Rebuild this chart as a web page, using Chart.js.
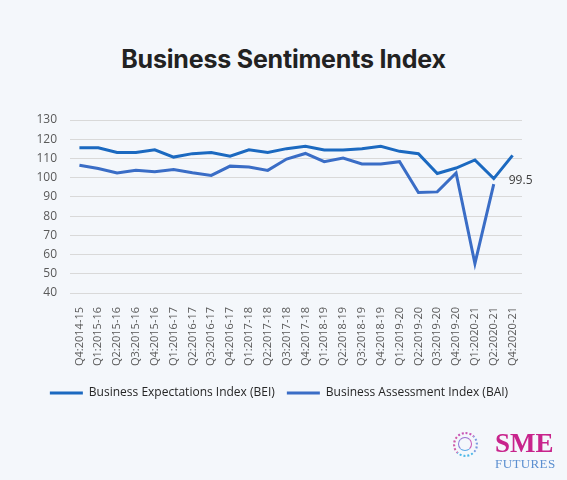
<!DOCTYPE html>
<html>
<head>
<meta charset="utf-8">
<script src="https://cdn.jsdelivr.net/npm/chart.js@4/dist/chart.umd.min.js"></script>
<style>
  html, body { margin: 0; padding: 0; background: #f4f7fb; }
  #wrap { position: relative; width: 567px; height: 480px; overflow: hidden; }
  #title { position: absolute; top: 44px; left: 0; width: 567px; text-align: center;
    font: 700 25px Inter, "Open Sans", sans-serif; color: #222; letter-spacing: -0.2px; }
  #chart { position: absolute; left: 0; top: 0; }
  .logo { position: absolute; left: 452px; top: 430px; width: 110px; height: 45px; }
  .ring { position: absolute; border-radius: 50%; border: 2px dotted #c94fb8; }
  .sme { position: absolute; left: 43px; top: 0; font: 700 27px/1 "Liberation Serif", serif; color: #c8248c; }
  .fut { position: absolute; left: 43px; top: 27px; font: 13px/1 "Liberation Serif", serif; color: #5b8fd0; letter-spacing: 0.4px; }
</style>
</head>
<body>
<div id="wrap">
  <div id="title">Business Sentiments Index</div>
  <canvas id="chart" width="567" height="480"></canvas>
  <div class="logo">
    <div class="ring" style="left:1px;top:2px;width:21px;height:21px;border-color:#c955b5 #7a9be0 #4bb8e8 #d05aa8;"></div>
    <div class="ring" style="left:6px;top:7px;width:12px;height:12px;border-style:solid;border-width:1.5px;border-color:#9a6fd0 #c955b5 #5aa8e6 #8a7ad8;"></div>
    <div class="sme">SME</div>
    <div class="fut">FUTURES</div>
  </div>
</div>
<script>
const quarters = ["Q4:2014-15", "Q1:2015-16", "Q2:2015-16", "Q3:2015-16", "Q4:2015-16",
  "Q1:2016-17", "Q2:2016-17", "Q3:2016-17", "Q4:2016-17", "Q1:2017-18", "Q2:2017-18",
  "Q3:2017-18", "Q4:2017-18", "Q1:2018-19", "Q2:2018-19", "Q3:2018-19", "Q4:2018-19",
  "Q1:2019-20", "Q2:2019-20", "Q3:2019-20", "Q4:2019-20", "Q1:2020-21", "Q2:2020-21",
  "Q4:2020-21"];
const bei = [115.6, 115.6, 113.1, 113.1, 114.5, 110.7, 112.5, 113.1, 111.2, 114.5, 113.1,
  115.1, 116.3, 114.4, 114.4, 115.1, 116.3, 113.7, 112.5, 102.2, 105.0, 109.2, 99.5, 111.6];
const bai = [106.5, 104.8, 102.4, 103.8, 103.1, 104.3, 102.6, 101.2, 106.0, 105.5, 103.8,
  109.7, 112.6, 108.3, 110.2, 107.1, 107.1, 108.3, 92.3, 92.6, 102.4, 55.3, 96.6, null];
const yTicks = [40, 50, 60, 70, 80, 90, 100, 110, 120, 130];
const labelIndex = 22; // the 99.5 callout on BEI

// draws the single value label next to the BEI dip
const valueLabel = {
  id: 'valueLabel',
  afterDatasetsDraw(chart) {
    const pt = chart.getDatasetMeta(0).data[labelIndex];
    const ctx = chart.ctx;
    ctx.save();
    ctx.font = '12px "Open Sans", sans-serif';
    ctx.fillStyle = '#404040';
    ctx.textBaseline = 'middle';
    ctx.fillText(bei[labelIndex].toFixed(1), pt.x + 15, pt.y + 2);
    ctx.restore();
  }
};

new Chart("chart", {
  type: "line",
  data: {
    labels: quarters,
    datasets: [{
      label: "Business Expectations Index (BEI)",
      data: bei,
      borderColor: "#1b69c0",
      backgroundColor: "#1b69c0",
      borderWidth: 3,
      pointRadius: 0,
      tension: 0
    }, {
      label: "Business Assessment Index (BAI)",
      data: bai,
      borderColor: "#3a6dc6",
      backgroundColor: "#3a6dc6",
      borderWidth: 3,
      pointRadius: 0,
      tension: 0
    }]
  },
  options: {
    responsive: false,
    animation: false,
    layout: { padding: { top: 120, left: 36, right: 45, bottom: 71 } },
    plugins: {
      legend: {
        position: 'bottom',
        labels: {
          boxWidth: 33, boxHeight: 3, padding: 12,
          color: '#262626',
          font: { size: 12, family: '"Open Sans", sans-serif' },
          generateLabels(chart) {
            const items = Chart.defaults.plugins.legend.labels.generateLabels(chart);
            items.forEach(it => { it.lineWidth = 0; });
            return items;
          }
        }
      },
      tooltip: { enabled: false }
    },
    scales: {
      x: {
        offset: true,
        grid: { display: false },
        border: { display: false },
        ticks: {
          autoSkip: false, maxRotation: 90, minRotation: 90,
          color: '#595959', padding: 6,
          font: { size: 11, family: '"Open Sans", sans-serif' }
        },
        afterFit(scale) { scale.height = 82; }
      },
      y: {
        min: 40, max: 130,
        afterBuildTicks(scale) { scale.ticks = yTicks.map(v => ({ value: v })); },
        grid: { color: '#d9d9d9', lineWidth: 1, drawTicks: false },
        border: { display: false },
        ticks: {
          color: '#595959', padding: 13,
          font: { size: 12, family: '"Open Sans", sans-serif' }
        },
        afterFit(scale) { scale.width = 34; }
      }
    }
  },
  plugins: [valueLabel]
});
</script>
</body>
</html>
